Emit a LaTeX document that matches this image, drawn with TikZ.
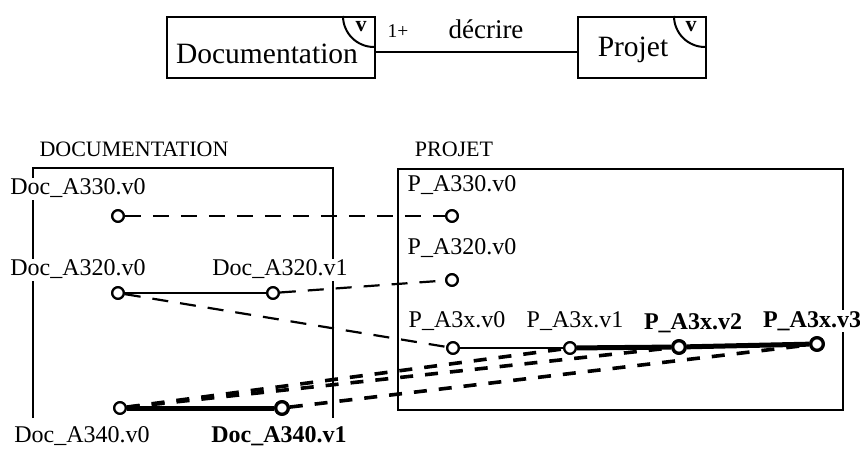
\documentclass[tikz,border=0pt]{standalone}
\usepackage{fontspec}
\setmainfont{Liberation Serif}
\begin{document}
\begin{tikzpicture}[x=1pt,y=-1pt,
  frame/.style={line width=2pt},
  boxtxt/.style={font=\fontsize{29.5}{33}\selectfont, anchor=base, inner sep=0pt},
  vtxt/.style={font=\fontsize{22}{25}\selectfont\bfseries, anchor=base, inner sep=0pt},
  small/.style={font=\fontsize{19.5}{22}\selectfont, anchor=base, inner sep=0pt},
  role/.style={font=\fontsize{27}{31}\selectfont, anchor=base, inner sep=0pt},
  head/.style={font=\fontsize{22}{26}\selectfont, anchor=base, inner sep=0pt},
  lab/.style={font=\fontsize{24}{28}\selectfont, anchor=base, fill=white, inner sep=1.5pt},
  blab/.style={lab, font=\fontsize{24}{28}\selectfont\bfseries},
  ver/.style={circle, draw, fill=white, line width=2.2pt, minimum size=11.5pt, inner sep=0pt},
  bver/.style={ver, line width=3.2pt, minimum size=12.5pt},
  thinline/.style={line width=1.8pt},
  heavy/.style={line width=5pt},
  dsh/.style={line width=2.2pt, dash pattern=on 16pt off 12pt},
  hdsh/.style={line width=3.6pt, dash pattern=on 13pt off 12pt}
]
\useasboundingbox (0,0) rectangle (860,449);

% ---- top class diagram ----
\node[draw, frame, minimum width=208pt, minimum height=61pt, inner sep=0pt, anchor=north west] (doc) at (166,16) {};
\node[draw, frame, minimum width=128pt, minimum height=61pt, inner sep=0pt, anchor=north west] (proj) at (577,16) {};
\draw[frame] (343,16) arc[start angle=180, end angle=90, radius=31];
\draw[frame] (674,16) arc[start angle=180, end angle=90, radius=31];
\node[vtxt] (docv) at (361,32) {v};
\node[vtxt] (projv) at (691,32) {v};
\node[boxtxt] (doct) at (267,64) {Documentation};
\node[boxtxt] (projt) at (633,57) {Projet};
\draw[frame] ([yshift=-5pt]doc.east) -- ([yshift=-5pt]proj.west);
\node[small] (mult) at (398,37.5) {1+};
\node[role] (role) at (486,39) {décrire};

% ---- frames ----
\draw[frame] (33,418) -- (33,168) -- (333,168) -- (333,418);
\draw[frame] (398,169) rectangle (843,410);
\node[head] (hdoc) at (134,157) {DOCUMENTATION};
\node[head] (hproj) at (454,157) {PROJET};

% ---- version vertices ----
\node[ver] (d330) at (118,216) {};
\node[ver] (d320a) at (118,293) {};
\node[ver] (d320b) at (273,293) {};
\node[ver] (d340a) at (120,408) {};
\node[bver] (d340b) at (282,408) {};
\node[ver] (p330) at (452,216) {};
\node[ver] (p320) at (452,280) {};
\node[ver] (p3x0) at (453,348) {};
\node[ver] (p3x1) at (570,348) {};
\node[bver] (p3x2) at (679,347) {};
\node[bver] (p3x3) at (817,344) {};

% ---- connectors ----
\draw[thinline] (d320a) -- (d320b);
\draw[thinline] (p3x0) -- (p3x1);
\draw[heavy] (p3x1) -- (p3x2);
\draw[heavy] (p3x2) -- (p3x3);
\draw[heavy] (d340a) -- (d340b);
\draw[dsh] (d330) -- (p330);
\draw[dsh] (d320b) -- (p320);
\draw[dsh] (d320a) -- (p3x0);
\draw[hdsh] (d340a) -- (p3x1);
\draw[hdsh] (d340a) -- (p3x2);
\draw[hdsh] (d340b) -- (p3x3);

% ---- labels ----
\node[lab] (l330) at (78,195) {Doc\_A330.v0};
\node[lab] (l320a) at (78,276) {Doc\_A320.v0};
\node[lab] (l320b) at (280,276) {Doc\_A320.v1};
\node[lab] (l340a) at (82,442) {Doc\_A340.v0};
\node[blab] (l340b) at (279,442) {Doc\_A340.v1};
\node[lab] (lp330) at (462,192) {P\_A330.v0};
\node[lab] (lp320) at (462,255) {P\_A320.v0};
\node[lab] (lp3x0) at (457,327) {P\_A3x.v0};
\node[lab] (lp3x1) at (575,327) {P\_A3x.v1};
\node[blab] (lp3x2) at (693,330) {P\_A3x.v2};
\node[blab] (lp3x3) at (812,327) {P\_A3x.v3};

% vertices drawn again above the connectors
\foreach \n in {d330,d320a,d320b,d340a,p330,p320,p3x0,p3x1}{
  \node[ver] at (\n) {};
}
\foreach \n in {d340b,p3x2,p3x3}{
  \node[bver] at (\n) {};
}
\end{tikzpicture}
\end{document}
